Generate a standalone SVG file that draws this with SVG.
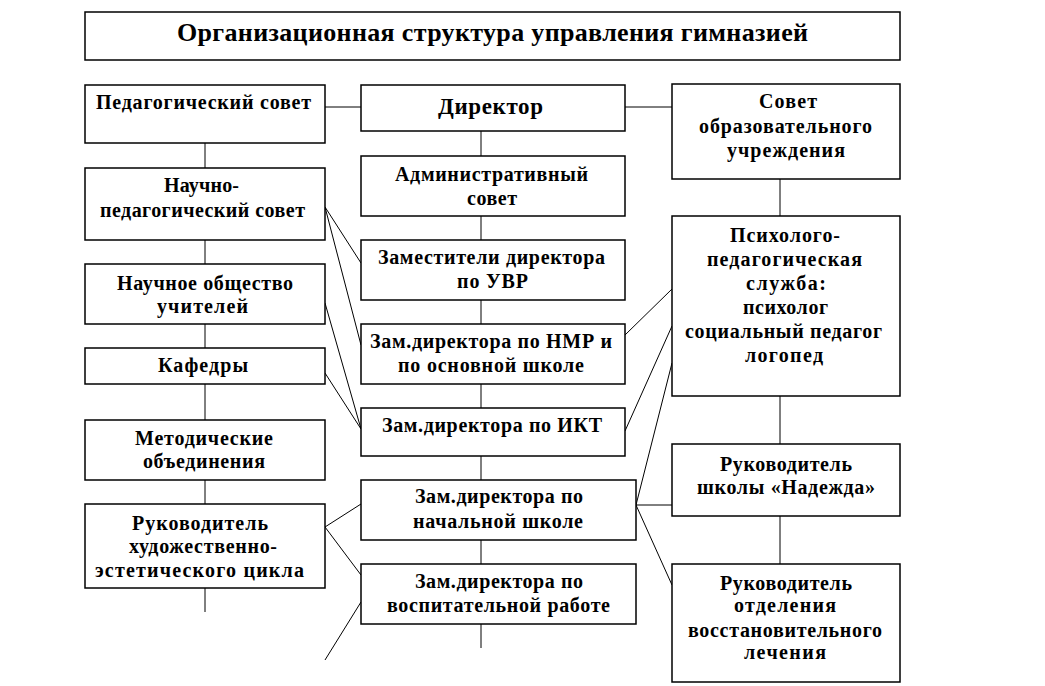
<svg xmlns="http://www.w3.org/2000/svg" width="1045" height="686" viewBox="0 0 1045 686">
<style>
rect{fill:#fff;stroke:#000;stroke-width:1.5}
line{stroke:#000;stroke-width:1}
text{font-family:"Liberation Serif","Times New Roman",serif;font-weight:bold;font-size:20px;fill:#000}
.t{font-size:26px}
.d{font-size:23px}
</style>
<rect x="0" y="0" width="1045" height="686" style="fill:#fff;stroke:none"/>
<g id="connectors">
<line x1="325" y1="107" x2="361" y2="107"/>
<line x1="625" y1="107" x2="672" y2="107"/>
<line x1="205" y1="143" x2="205" y2="168"/>
<line x1="205" y1="240" x2="205" y2="264"/>
<line x1="205" y1="324" x2="205" y2="348"/>
<line x1="205" y1="384" x2="205" y2="420"/>
<line x1="205" y1="480" x2="205" y2="504"/>
<line x1="205" y1="588" x2="205" y2="612"/>
<line x1="481" y1="131" x2="481" y2="156"/>
<line x1="481" y1="216" x2="481" y2="240"/>
<line x1="481" y1="300" x2="481" y2="324"/>
<line x1="481" y1="384" x2="481" y2="408"/>
<line x1="481" y1="456" x2="481" y2="480"/>
<line x1="481" y1="540" x2="481" y2="564"/>
<line x1="481" y1="624" x2="481" y2="648"/>
<line x1="780" y1="179" x2="780" y2="216"/>
<line x1="780" y1="396" x2="780" y2="444"/>
<line x1="780" y1="516" x2="780" y2="564"/>
<line x1="325" y1="207" x2="361" y2="263"/>
<line x1="325" y1="207" x2="361" y2="345"/>
<line x1="325" y1="303" x2="361" y2="429"/>
<line x1="325" y1="373" x2="361" y2="429"/>
<line x1="625" y1="335" x2="672" y2="289"/>
<line x1="625" y1="431" x2="672" y2="326"/>
<line x1="636" y1="505" x2="672" y2="363"/>
<line x1="636" y1="505" x2="672" y2="505"/>
<line x1="636" y1="505" x2="672" y2="585"/>
<line x1="325" y1="527" x2="361" y2="504"/>
<line x1="325" y1="527" x2="361" y2="575"/>
<line x1="361" y1="602" x2="325" y2="660"/>
</g>
<g id="title"><rect x="85" y="12" width="815" height="48"/><text class="t" x="177" y="41" textLength="631">Организационная структура управления гимназией</text></g>
<g id="ped-sovet"><rect x="85" y="85" width="240" height="58"/><text x="96" y="109" textLength="215">Педагогический совет</text></g>
<g id="nauch-ped-sovet"><rect x="85" y="168" width="240" height="72"/><text x="164" y="192" textLength="75">Научно-</text><text x="100" y="217" textLength="205">педагогический совет</text></g>
<g id="nauch-obshch"><rect x="85" y="264" width="240" height="60"/><text x="117" y="290" textLength="176">Научное общество</text><text x="157" y="313" textLength="91">учителей</text></g>
<g id="kafedry"><rect x="85" y="348" width="240" height="36"/><text x="158" y="372" textLength="90">Кафедры</text></g>
<g id="metod"><rect x="85" y="420" width="240" height="60"/><text x="135" y="445" textLength="138">Методические</text><text x="143" y="468" textLength="122">объединения</text></g>
<g id="ruk-hud"><rect x="85" y="504" width="240" height="84"/><text x="132" y="530" textLength="136">Руководитель</text><text x="129" y="553" textLength="148">художественно-</text><text x="95" y="577" textLength="209">эстетического цикла</text></g>
<g id="direktor"><rect x="361" y="85" width="264" height="46"/><text class="d" x="438" y="114" textLength="105">Директор</text></g>
<g id="admin-sovet"><rect x="361" y="156" width="264" height="60"/><text x="395" y="181" textLength="193">Административный</text><text x="467" y="205" textLength="50">совет</text></g>
<g id="zam-uvr"><rect x="361" y="240" width="264" height="60"/><text x="378" y="264" textLength="227">Заместители директора</text><text x="457" y="288" textLength="71">по УВР</text></g>
<g id="zam-nmr"><rect x="361" y="324" width="264" height="60"/><text x="370" y="348" textLength="242">Зам.директора по НМР и</text><text x="398" y="372" textLength="186">по основной школе</text></g>
<g id="zam-ikt"><rect x="361" y="408" width="264" height="48"/><text x="382" y="432" textLength="220">Зам.директора по ИКТ</text></g>
<g id="zam-nach"><rect x="361" y="480" width="275" height="60"/><text x="415" y="503" textLength="168">Зам.директора по</text><text x="413" y="528" textLength="170">начальной школе</text></g>
<g id="zam-vosp"><rect x="361" y="564" width="275" height="60"/><text x="415" y="588" textLength="168">Зам.директора по</text><text x="387" y="612" textLength="223">воспитательной работе</text></g>
<g id="sovet-ou"><rect x="672" y="84" width="228" height="95"/><text x="759" y="108" textLength="58">Совет</text><text x="699" y="133" textLength="173">образовательного</text><text x="727" y="157" textLength="118">учреждения</text></g>
<g id="psih"><rect x="672" y="216" width="228" height="180"/><text x="730" y="242" textLength="110">Психолого-</text><text x="707" y="266" textLength="155">педагогическая</text><text x="746" y="290" textLength="80">служба:</text><text x="743" y="314" textLength="85">психолог</text><text x="685" y="338" textLength="197">социальный педагог</text><text x="745" y="362" textLength="78">логопед</text></g>
<g id="ruk-nadezhda"><rect x="672" y="444" width="228" height="72"/><text x="720" y="471" textLength="132">Руководитель</text><text x="697" y="494" textLength="178">школы «Надежда»</text></g>
<g id="ruk-otd"><rect x="672" y="564" width="228" height="118"/><text x="720" y="590" textLength="132">Руководитель</text><text x="734" y="612" textLength="102">отделения</text><text x="688" y="637" textLength="194">восстановительного</text><text x="744" y="659" textLength="82">лечения</text></g>
</svg>
